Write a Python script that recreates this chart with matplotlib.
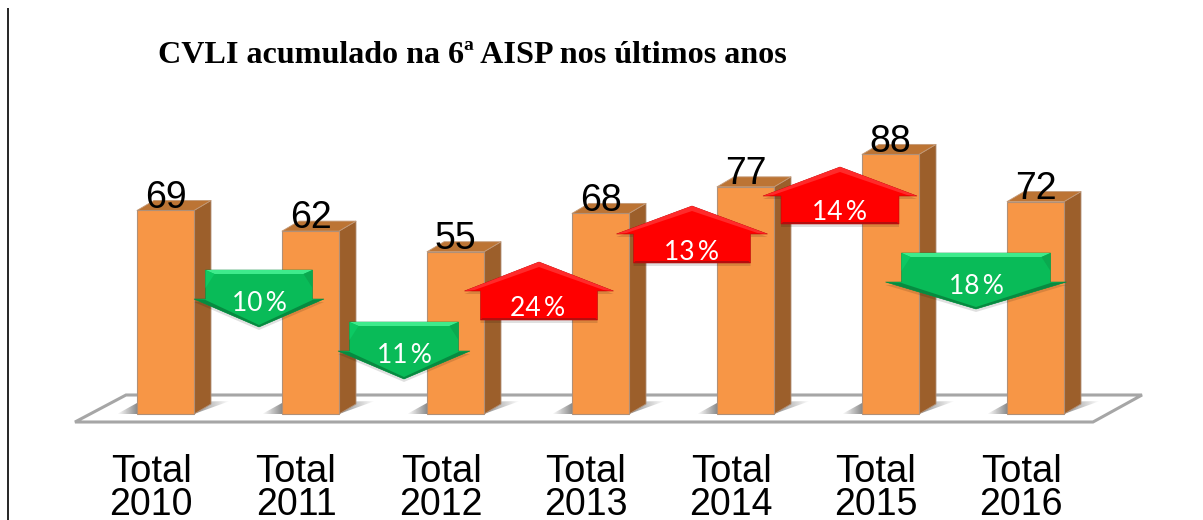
# ---------- IMPORT LIBRARIES ----------
import numpy as np
import matplotlib
matplotlib.use("Agg")
import matplotlib.pyplot as plt
from matplotlib.patches import Polygon

# ---------- DATA ----------
titulo = "CVLI acumulado na 6ª AISP nos últimos anos"
anos = ["Total\n2010", "Total\n2011", "Total\n2012", "Total\n2013",
        "Total\n2014", "Total\n2015", "Total\n2016"]
valores = [69, 62, 55, 68, 77, 88, 72]
variacao = ["10\u2009%", "11\u2009%", "24\u2009%", "13\u2009%", "14\u2009%", "18\u2009%"]

# ---------- LAYOUT (pixels of the 1203x520 picture) ----------
W, H = 1203, 520
X0, STEP = 165.5, 145.0      # centre of first bar, distance between bars
Y0, UNIT = 414.0, 2.95       # floor of the bars, pixels per unit
BAR_W = 57.0
DEPTH_X, DEPTH_Y = 17.0, 10.0

# per arrow: shift from bar midpoint, top of shape, body width, wing width, shaft height, head height
setas = [
    (21, 270, 107, 130, 29, 28),
    (21, 322, 109, 132, 29, 28),
    (11, 262, 117, 149, 29, 29),
    (19, 206, 117, 151, 29, 28),
    (22, 167, 118, 154, 28, 29),
    (13, 253, 149, 181, 29, 27),
]


def px(x, y):
    # picture pixels -> data coordinates of the axes
    return (x - X0) / STEP, (Y0 - y) / UNIT


def poly(ax, pts, **kw):
    p = Polygon([px(*q) for q in pts], closed=True, **kw)
    ax.add_patch(p)
    return p


fig = plt.figure(figsize=(W / 100, H / 100), dpi=100)
ax = fig.add_axes([0, 0, 1, 1])
ax.set_xlim(px(0, 0)[0], px(W, 0)[0])
ax.set_ylim(px(0, H)[1], px(0, 0)[1])
ax.axis("off")

# ---------- LEFT RULE ----------
ax.plot(*zip(px(8, 8), px(8, H)), color="black", lw=1.2, zorder=1, solid_capstyle="butt")

# ---------- TITLE ----------
tx, ty = px(158, 63)
ax.text(tx, ty, titulo, family="Liberation Serif", weight="bold", fontsize=23.1,
        color="black", ha="left", va="baseline")

# ---------- FLOOR ----------
poly(ax, [(75, 422), (126, 395), (1142, 395), (1093, 422)],
     facecolor="white", edgecolor="#a6a6a6", lw=2.2, zorder=2, joinstyle="miter")

# ---------- BARS ----------
pos = np.arange(len(valores))
ax.bar(pos, valores, width=BAR_W / STEP, color="#F79646", edgecolor="#b09078",
       linewidth=0.8, zorder=5)

for i, v in zip(pos, valores):
    cx = X0 + i * STEP
    left, right = cx - BAR_W / 2, cx + BAR_W / 2
    top = Y0 - v * UNIT

    # floor shadow, fading away from the bar
    fade = np.interp(np.linspace(0, 1, 120), [0, 0.18, 0.62, 1], [0, 0.65, 0.75, 0])
    img = np.zeros((1, 120, 4))
    img[..., :3] = 0.28
    img[..., 3] = fade
    (x1, y1), (x2, y2) = px(left - 20, Y0), px(right + 36, Y0 - 13)
    im = ax.imshow(img, extent=(x1, x2, y1, y2), aspect="auto", zorder=3,
                   interpolation="bilinear")
    im.set_clip_path(poly(ax, [(left - 20, Y0), (left, Y0 - 11), (right + 36, Y0 - 13),
                               (right, Y0)], facecolor="none", edgecolor="none"))

    # side and top faces
    poly(ax, [(right, top), (right + DEPTH_X, top - DEPTH_Y), (right + DEPTH_X, Y0 - DEPTH_Y),
              (right, Y0)], facecolor="#9C5F2B", edgecolor="#b09078", lw=0.6, zorder=4)
    poly(ax, [(left, top), (left + DEPTH_X, top - DEPTH_Y), (right + DEPTH_X, top - DEPTH_Y),
              (right, top)], facecolor="#BC7434", edgecolor="#c49a78", lw=0.6, zorder=4,
         joinstyle="round")

    # value and category labels
    ax.text(i, v + 0.9, str(v), family="Liberation Sans", fontsize=27, color="black",
            ha="center", va="baseline", zorder=6)
    linha1, linha2 = anos[i].split("\n")
    lx, ly = px(cx - 14.5, 482)
    ax.text(lx, ly, linha1, family="Liberation Sans", fontsize=27.5,
            ha="center", va="baseline", color="black")
    lx, ly = px(cx - 14.5, 515)
    ax.text(lx, ly, linha2, family="Liberation Sans", fontsize=27,
            ha="center", va="baseline", color="black")


# ---------- VARIATION ARROWS ----------
def draw_arrow(i, label, shift, top, body, wing, shaft, head):
    mid = X0 + (i + 0.5) * STEP + shift
    subiu = valores[i + 1] > valores[i]
    b, w = body / 2, wing / 2

    if subiu:
        tip = top
        sh = top + head
        end = sh + shaft
        outline = [(mid, tip), (mid + w, sh), (mid + b, sh), (mid + b, end),
                   (mid - b, end), (mid - b, sh), (mid - w, sh)]
        main, light, dark = "#FF0000", "#FF2A2A", "#B50D0D"
        shadow = [(x, y + 3) for x, y in outline]
        poly(ax, shadow, facecolor="#000000", alpha=0.12, edgecolor="none", zorder=7)
        poly(ax, outline, facecolor=main, edgecolor=dark, lw=0.4, zorder=8)
        # roof bevel and bottom edge
        poly(ax, [(mid, tip + 5), (mid + w - 10, sh - 1), (mid + w, sh), (mid, tip)],
             facecolor=light, edgecolor="none", zorder=9)
        poly(ax, [(mid, tip + 5), (mid - w + 10, sh - 1), (mid - w, sh), (mid, tip)],
             facecolor=light, edgecolor="none", zorder=9)
        poly(ax, [(mid - b, end), (mid + b, end), (mid + b - 2, end - 2), (mid - b + 2, end - 2)],
             facecolor=dark, edgecolor="none", zorder=9)
        ty = end - 3.5
    else:
        sh = top + shaft
        tip = sh + head
        outline = [(mid - b, top), (mid + b, top), (mid + b, sh), (mid + w, sh),
                   (mid, tip), (mid - w, sh), (mid - b, sh)]
        main, light, dark = "#09BB58", "#3EEB8C", "#078A40"
        shadow = [(x, y + 3) for x, y in outline]
        poly(ax, shadow, facecolor="#000000", alpha=0.12, edgecolor="none", zorder=7)
        poly(ax, outline, facecolor=main, edgecolor=dark, lw=0.4, zorder=8)
        # top bevel, slanted sides, dark wings
        poly(ax, [(mid - b, top), (mid + b, top), (mid + b - 9, top + 4), (mid - b + 9, top + 4)],
             facecolor=light, edgecolor="none", zorder=9)
        poly(ax, [(mid - b, top), (mid - b + 9, top + 4), (mid - b, top + 18)],
             facecolor="#0CC963", edgecolor="none", zorder=9)
        poly(ax, [(mid + b, top), (mid + b - 9, top + 4), (mid + b, top + 18)],
             facecolor="#0AA94F", edgecolor="none", zorder=9)
        poly(ax, [(mid - w, sh), (mid, tip), (mid, tip - 2), (mid - b, sh + 1)],
             facecolor=dark, edgecolor="none", zorder=9)
        poly(ax, [(mid + w, sh), (mid, tip), (mid, tip - 2), (mid + b, sh + 1)],
             facecolor=dark, edgecolor="none", zorder=9)
        ty = sh + 12

    lx, ly = px(mid - (1 if subiu else 0), ty)
    ax.text(lx, ly, label, family="Lato", fontsize=19, color="white",
            ha="center", va="baseline", zorder=10)


for i, (label, s) in enumerate(zip(variacao, setas)):
    draw_arrow(i, label, *s)

ax.set_xlim(px(0, 0)[0], px(W, 0)[0])
ax.set_ylim(px(0, H)[1], px(0, 0)[1])

fig.savefig("out.png", dpi=100, facecolor="white")
